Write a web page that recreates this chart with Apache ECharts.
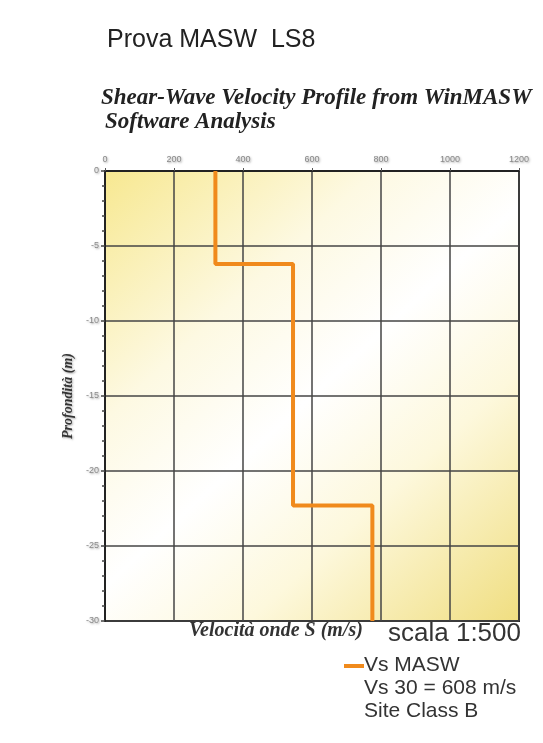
<!DOCTYPE html>
<html>
<head>
<meta charset="utf-8">
<script src="https://cdn.jsdelivr.net/npm/echarts@6/dist/echarts.min.js"></script>
<style>
  html, body { margin: 0; padding: 0; background: #fff; }
  #chart { width: 543px; height: 743px; }
</style>
</head>
<body>
<div id="chart"></div>
<script>
// layer velocities (m/s) and layer tops (m, negative = depth)
const velocities = [320, 545, 775]
const layerTops = [0, -6.2, -22.3]
const bottomDepth = -30
const xTicks = [0, 200, 400, 600, 800, 1000, 1200]
const yTicks = [0, -5, -10, -15, -20, -25, -30]

// step profile points built from the layers
let profile = []
velocities.forEach((v, i) => {
  const top = layerTops[i]
  const bot = i < layerTops.length - 1 ? layerTops[i + 1] : bottomDepth
  profile.push([v, top])
  profile.push([v, bot])
})

const chart = echarts.init(document.getElementById('chart'))

const shadow = { textShadowColor: 'rgba(0,0,0,0.35)', textShadowBlur: 2, textShadowOffsetX: 1, textShadowOffsetY: 1 }
const serifBI = { fontFamily: 'Liberation Serif', fontStyle: 'italic', fontWeight: 'bold' }
const txtShadow = { shadowColor: 'rgba(0,0,0,0.35)', shadowBlur: 2, shadowOffsetX: 1, shadowOffsetY: 1 }

chart.setOption({
  animation: false,
  backgroundColor: '#fff',
  grid: {
    left: 105,
    right: 24,
    top: 171,
    bottom: 122,
    show: true,
    borderColor: '#222',
    borderWidth: 2,
    backgroundColor: new echarts.graphic.LinearGradient(0, 0, 1, 1, [
      { offset: 0, color: '#f7e890' },
      { offset: 0.3, color: '#fdf9e2' },
      { offset: 0.5, color: '#ffffff' },
      { offset: 0.7, color: '#fdf8dc' },
      { offset: 1, color: '#f0de80' }
    ])
  },
  xAxis: {
    type: 'value',
    position: 'top',
    min: xTicks[0],
    max: xTicks[xTicks.length - 1],
    interval: 200,
    axisLine: { show: true, lineStyle: { color: '#222', width: 2 } },
    axisTick: { show: true, length: 3, lineStyle: { color: '#555' } },
    axisLabel: { color: '#888', fontSize: 9, margin: 7, fontFamily: 'Liberation Sans', formatter: v => String(v), ...shadow },
    splitLine: { show: true, lineStyle: { color: '#444', width: 1.5 } }
  },
  yAxis: {
    type: 'value',
    min: yTicks[yTicks.length - 1],
    max: yTicks[0],
    interval: 5,
    name: 'Profondità (m)',
    nameLocation: 'middle',
    nameGap: 26,
    nameTextStyle: { color: '#333', fontSize: 14, ...serifBI, ...shadow },
    axisLine: { show: true, lineStyle: { color: '#222', width: 2 } },
    axisTick: { show: true, length: 4, lineStyle: { color: '#444', width: 1.5 } },
    minorTick: { show: true, splitNumber: 5, length: 3, lineStyle: { color: '#444', width: 1.5 } },
    axisLabel: { color: '#888', fontSize: 9, margin: 6, fontFamily: 'Liberation Sans', ...shadow },
    splitLine: { show: true, lineStyle: { color: '#444', width: 1.5 } }
  },
  graphic: [
    { type: 'text', left: 107, top: 28, style: { text: 'Prova MASW  LS8', font: '25px "Liberation Sans"', fill: '#222', ...txtShadow } },
    { type: 'text', left: 101, top: 87, style: { text: 'Shear-Wave Velocity Profile from WinMASW', font: 'italic bold 23px "Liberation Serif"', fill: '#222', ...txtShadow } },
    { type: 'text', left: 105, top: 111, style: { text: 'Software Analysis', font: 'italic bold 23px "Liberation Serif"', fill: '#222', ...txtShadow } },
    { type: 'text', left: 189, top: 621, style: { text: 'Velocità onde S (m/s)', font: 'italic bold 20px "Liberation Serif"', fill: '#333', ...txtShadow } },
    { type: 'text', left: 388, top: 621, style: { text: 'scala 1:500', font: '26px "Liberation Sans"', fill: '#333', ...txtShadow } },
    { type: 'line', shape: { x1: 344, y1: 666, x2: 364, y2: 666 }, style: { stroke: '#f08a1c', lineWidth: 4 } },
    { type: 'text', left: 364, top: 655, style: { text: 'Vs MASW', font: '21px "Liberation Sans"', fill: '#333', ...txtShadow } },
    { type: 'text', left: 364, top: 678, style: { text: 'Vs 30 = 608 m/s', font: '21px "Liberation Sans"', fill: '#333', ...txtShadow } },
    { type: 'text', left: 364, top: 701, style: { text: 'Site Class B', font: '21px "Liberation Sans"', fill: '#333', ...txtShadow } }
  ],
  series: [{
    name: 'Vs MASW',
    type: 'line',
    data: profile,
    symbol: 'none',
    lineStyle: { color: '#f08a1c', width: 4 },
    z: 5
  }]
})
</script>
</body>
</html>
